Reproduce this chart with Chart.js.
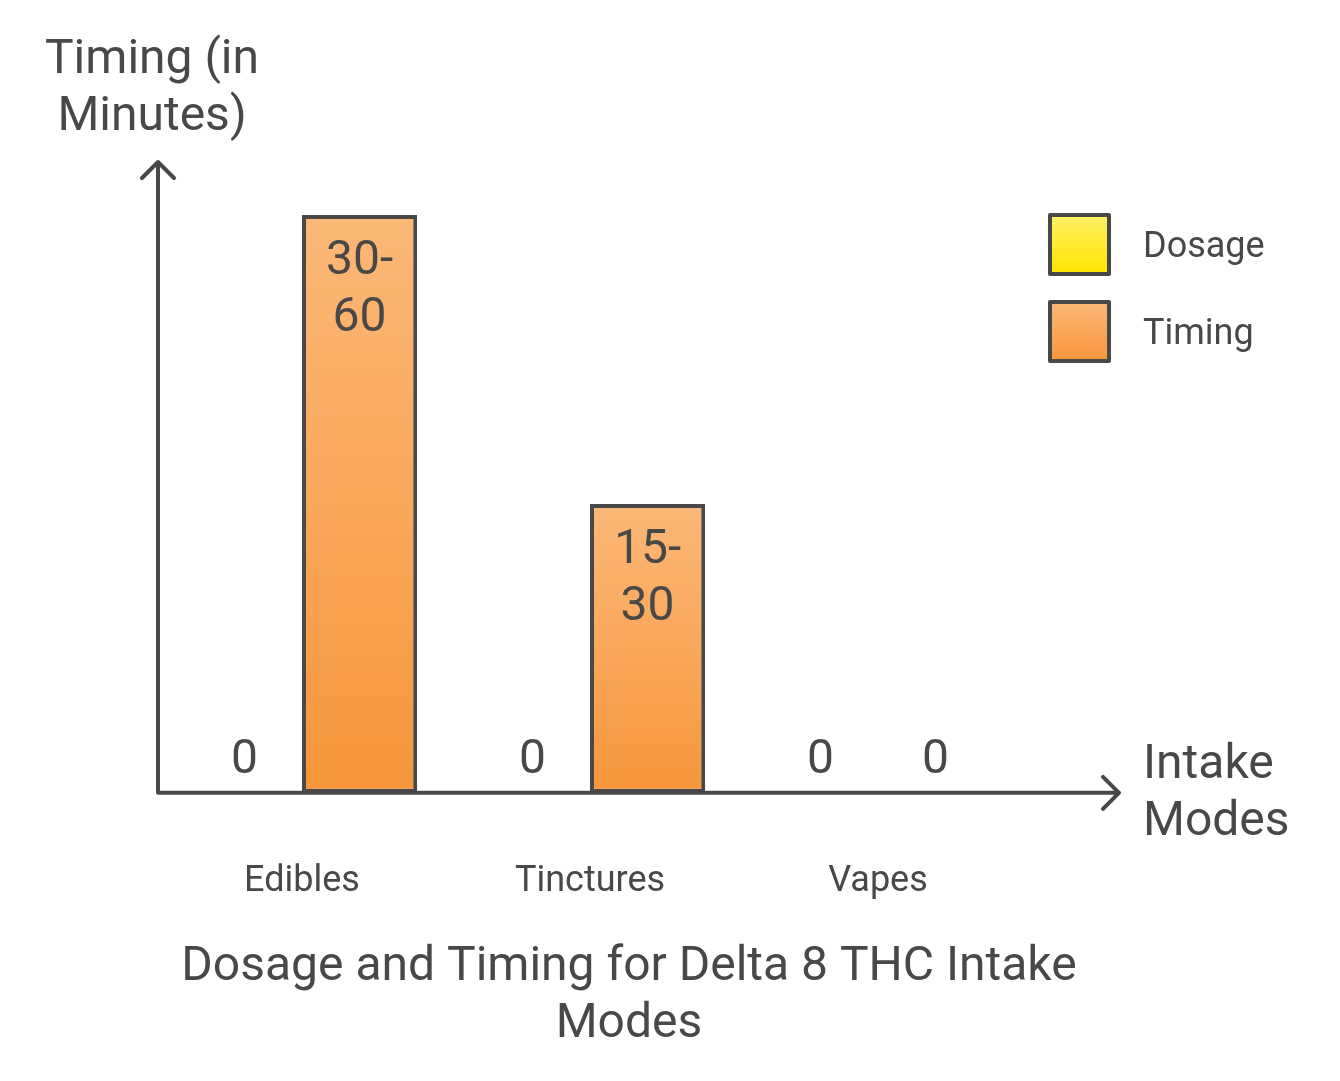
<!DOCTYPE html>
<html lang="en">
<head>
<meta charset="utf-8">
<title>Dosage and Timing for Delta 8 THC Intake Modes</title>
<script src="https://cdn.jsdelivr.net/npm/chart.js"></script>
<style>
  html, body { margin: 0; padding: 0; background: #fff; }
  #wrap { width: 1340px; height: 1081px; }
</style>
</head>
<body>
<div id="wrap"><canvas id="myChart" width="1340" height="1081"></canvas></div>
<script>
const categories = ['Edibles', 'Tinctures', 'Vapes'];
const seriesNames = ['Dosage', 'Timing'];
const dosageValues = [0, 0, 0];
const timingValues = [60, 30, 0];
const dosageLabels = ['0', '0', '0'];
const timingLabels = [['30-', '60'], ['15-', '30'], ['0']];
const yTitle = ['Timing (in', 'Minutes)'];
const xTitle = ['Intake', 'Modes'];
const chartTitle = ['Dosage and Timing for Delta 8 THC Intake', 'Modes'];

const ink = '#484848';
const fontName = 'Roboto, "Noto Sans", sans-serif';
const grads = {
	Dosage: ['#fff066', '#ffe500'],
	Timing: ['#fbb878', '#f7963a']
};

function barFill(context) {
	const chart = context.chart;
	if (!chart.chartArea || context.dataIndex === undefined) return grads[context.dataset.label][1];
	const y = chart.scales.y;
	const v = context.dataset.data[context.dataIndex];
	const top = y.getPixelForValue(v);
	const bot = y.getPixelForValue(0);
	if (bot - top < 1) return grads[context.dataset.label][1];
	const g = chart.ctx.createLinearGradient(0, top, 0, bot);
	g.addColorStop(0, grads[context.dataset.label][0]);
	g.addColorStop(1, grads[context.dataset.label][1]);
	return g;
}

const labelsBySeries = [dosageLabels.map(s => [s]), timingLabels];

const decor = {
	id: 'decor',
	afterDatasetsDraw(chart) {
		const c = chart.ctx;
		const a = chart.chartArea;
		c.save();
		// value labels
		c.fillStyle = ink;
		c.font = '48px ' + fontName;
		c.textAlign = 'center';
		c.textBaseline = 'middle';
		chart.data.datasets.forEach((ds, di) => {
			const meta = chart.getDatasetMeta(di);
			meta.data.forEach((bar, i) => {
				const lines = labelsBySeries[di][i];
				if (ds.data[i] === 0) {
					c.fillText(lines[0], bar.x, bar.base - 32);
				} else {
					lines.forEach((t, k) => c.fillText(t, bar.x, bar.y + 47 + k * 57));
				}
			});
		});

		// axes with arrows
		const x0 = a.left, y0 = a.bottom;
		c.strokeStyle = ink;
		c.lineWidth = 4;
		c.lineCap = 'round';
		c.lineJoin = 'round';
		c.beginPath();
		c.moveTo(x0, y0);
		c.lineTo(x0, 162);
		c.moveTo(x0 - 16, 178);
		c.lineTo(x0, 162);
		c.lineTo(x0 + 16, 178);
		c.moveTo(x0, y0);
		c.lineTo(1119, y0);
		c.moveTo(1103, y0 - 16);
		c.lineTo(1119, y0);
		c.lineTo(1103, y0 + 16);
		c.stroke();

		// axis titles
		c.font = '48px ' + fontName;
		c.textAlign = 'center';
		yTitle.forEach((t, k) => c.fillText(t, 152, 61 + k * 57));
		c.textAlign = 'left';
		xTitle.forEach((t, k) => c.fillText(t, 1143, 766 + k * 57));

		// chart title
		c.textAlign = 'center';
		chartTitle.forEach((t, k) => c.fillText(t, 629, 968 + k * 57));

		// legend
		c.font = '36px ' + fontName;
		seriesNames.forEach((name, k) => {
			const bx = 1050, by = 215 + k * 87, s = 59;
			const g = c.createLinearGradient(0, by, 0, by + s);
			g.addColorStop(0, grads[name][0]);
			g.addColorStop(1, grads[name][1]);
			c.fillStyle = g;
			c.fillRect(bx, by, s, s);
			c.strokeStyle = ink;
			c.lineWidth = 4;
			c.strokeRect(bx, by, s, s);
			c.fillStyle = ink;
			c.textAlign = 'left';
			c.fillText(name, 1143, by + s / 2 + 3);
		});
		c.restore();
	}
};

new Chart(document.getElementById('myChart').getContext('2d'), {
	type: 'bar',
	data: {
		labels: categories,
		datasets: [{
			label: seriesNames[0],
			data: dosageValues,
			backgroundColor: barFill,
			borderColor: ink,
			borderWidth: 4,
			borderSkipped: false
		}, {
			label: seriesNames[1],
			data: timingValues,
			backgroundColor: barFill,
			borderColor: ink,
			borderWidth: 4,
			borderSkipped: false
		}]
	},
	options: {
		responsive: false,
		animation: false,
		devicePixelRatio: 1,
		layout: { padding: { left: 158, right: 318, top: 215, bottom: 109 } },
		categoryPercentage: 0.8,
		barPercentage: 1.0,
		scales: {
			x: {
				grid: { display: false, drawTicks: false },
				border: { display: false },
				ticks: { color: ink, font: { family: fontName, size: 36 }, padding: 68 }
			},
			y: {
				display: false,
				min: 0,
				max: 60
			}
		},
		plugins: {
			legend: { display: false },
			tooltip: { enabled: false }
		}
	},
	plugins: [decor]
});
</script>
</body>
</html>
